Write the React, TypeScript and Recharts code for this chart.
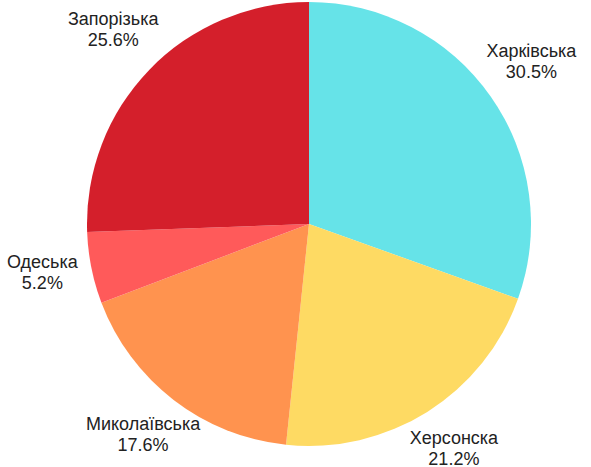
import React from 'react';
import { PieChart, Pie, Cell } from 'recharts';

const regions = ['Харківська', 'Херсонска', 'Миколаївська', 'Одеська', 'Запорізька'];
const shares = [30.5, 21.2, 17.6, 5.2, 25.6];
const colors = ['#66E3E8', '#FEDA63', '#FF934F', '#FF5A5A', '#D41F2B'];

const data = regions.map((name, i) => ({ name, value: shares[i] }));

const RAD = Math.PI / 180;

const renderLabel = (props: any) => {
  const { cx, cy, midAngle, outerRadius, name, value } = props;
  const r = outerRadius + 50;
  const x = cx + r * Math.cos(-midAngle * RAD);
  const y = cy + r * Math.sin(-midAngle * RAD);
  return (
    <text
      x={x}
      y={y}
      textAnchor="middle"
      fill="#222"
      style={{ fontFamily: '"Liberation Sans", Arial, sans-serif', fontSize: 18 }}
    >
      <tspan x={x} y={y - 10}>{name}</tspan>
      <tspan x={x} y={y + 11}>{`${value.toFixed(1)}%`}</tspan>
    </text>
  );
};

export default function App() {
  return (
    <div style={{ position: 'absolute', left: 0, top: 0, background: '#fff' }}>
      <PieChart width={591} height={467} margin={{ top: 0, right: 0, bottom: 0, left: 0 }}>
        <Pie
          data={data}
          dataKey="value"
          nameKey="name"
          cx={309}
          cy={224}
          outerRadius={222}
          startAngle={90}
          endAngle={-270}
          stroke="none"
          label={renderLabel}
          labelLine={false}
          isAnimationActive={false}
        >
          {data.map((entry, index) => (
            <Cell key={`cell-${index}`} fill={colors[index]} />
          ))}
        </Pie>
      </PieChart>
    </div>
  );
}
